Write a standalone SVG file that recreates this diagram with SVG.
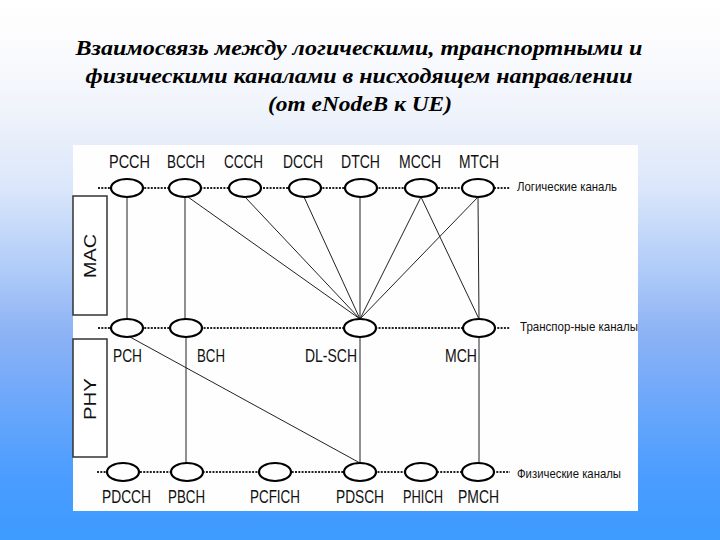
<svg xmlns="http://www.w3.org/2000/svg" width="720" height="540" viewBox="0 0 720 540">
<defs>
<linearGradient id="bg" x1="0" y1="0" x2="0" y2="1">
<stop offset="0" stop-color="#ffffff"/>
<stop offset="0.07" stop-color="#fcfcfe"/>
<stop offset="0.2" stop-color="#f0f4fb"/>
<stop offset="0.35" stop-color="#dae6fa"/>
<stop offset="0.5" stop-color="#afcbf8"/>
<stop offset="0.62" stop-color="#8cb2f5"/>
<stop offset="0.75" stop-color="#6ba7fb"/>
<stop offset="0.88" stop-color="#4b9dff"/>
<stop offset="1" stop-color="#3d9bff"/>
</linearGradient>
<style>
.title{font-family:"Liberation Serif","Times New Roman",serif;font-weight:bold;font-style:italic;font-size:22px;fill:#000;text-anchor:middle}
.lbl{font-family:"Liberation Sans",Arial,sans-serif;font-size:19px;fill:#111}
.side{font-family:"Liberation Sans",Arial,sans-serif;font-size:13px;fill:#111}
.box{font-family:"Liberation Sans",Arial,sans-serif;font-size:17px;fill:#111;text-anchor:middle}
.ell{fill:#fff;stroke:#000;stroke-width:2.2}
.dot{stroke:#222;stroke-width:2;stroke-dasharray:2 1.3;fill:none}
.ln{stroke:#222;stroke-width:1;fill:none}
.layer{fill:#fff;stroke:#333;stroke-width:1.5}
</style>
</defs>
<rect width="720" height="540" fill="url(#bg)"/>
<g id="title">
<text class="title" x="359" y="55" textLength="567" lengthAdjust="spacingAndGlyphs">Взаимосвязь между логическими, транспортными и</text>
<text class="title" x="359" y="83" textLength="547" lengthAdjust="spacingAndGlyphs">физическими каналами в нисходящем направлении</text>
<text class="title" x="360" y="111" textLength="184" lengthAdjust="spacingAndGlyphs">(от eNodeB к UE)</text>
</g>
<rect x="73" y="145" width="565" height="366" fill="#fefefe"/>
<g id="layers">
<g id="mac"><rect class="layer" x="73" y="196" width="34" height="119"/><text class="box" transform="translate(96,256) rotate(-90)" textLength="44" lengthAdjust="spacingAndGlyphs">MAC</text></g>
<g id="phy"><rect class="layer" x="73" y="339" width="34" height="118"/><text class="box" transform="translate(96,399) rotate(-90)" textLength="42" lengthAdjust="spacingAndGlyphs">PHY</text></g>
</g>
<g id="rows">
<line class="dot" x1="98" y1="188" x2="510" y2="188"/>
<line class="dot" x1="98" y1="328" x2="510" y2="328"/>
<line class="dot" x1="97" y1="472" x2="510" y2="472"/>
</g>
<g id="connectors">
<line class="ln" x1="127" y1="197" x2="127" y2="319"/>
<line class="ln" x1="185" y1="197" x2="185" y2="319"/>
<line class="ln" x1="188" y1="197" x2="360" y2="319"/>
<line class="ln" x1="245" y1="197" x2="360" y2="319"/>
<line class="ln" x1="304" y1="197" x2="360" y2="319"/>
<line class="ln" x1="360" y1="197" x2="360" y2="319"/>
<line class="ln" x1="421" y1="197" x2="360" y2="319"/>
<line class="ln" x1="421" y1="197" x2="479" y2="319"/>
<line class="ln" x1="478" y1="197" x2="360" y2="319"/>
<line class="ln" x1="478" y1="197" x2="479" y2="319"/>
<line class="ln" x1="130" y1="337" x2="360" y2="463"/>
<line class="ln" x1="186" y1="337" x2="186" y2="463"/>
<line class="ln" x1="360" y1="337" x2="360" y2="463"/>
<line class="ln" x1="479" y1="337" x2="479" y2="463"/>
</g>
<g id="PCCH"><ellipse class="ell" cx="127" cy="188" rx="16" ry="9"/><text class="lbl" x="109" y="168" textLength="41" lengthAdjust="spacingAndGlyphs">PCCH</text></g>
<g id="BCCH"><ellipse class="ell" cx="185" cy="188" rx="16" ry="9"/><text class="lbl" x="167" y="168" textLength="38" lengthAdjust="spacingAndGlyphs">BCCH</text></g>
<g id="CCCH"><ellipse class="ell" cx="245" cy="188" rx="16" ry="9"/><text class="lbl" x="224" y="168" textLength="39" lengthAdjust="spacingAndGlyphs">CCCH</text></g>
<g id="DCCH"><ellipse class="ell" cx="305" cy="188" rx="16" ry="9"/><text class="lbl" x="283" y="168" textLength="40" lengthAdjust="spacingAndGlyphs">DCCH</text></g>
<g id="DTCH"><ellipse class="ell" cx="361" cy="188" rx="16" ry="9"/><text class="lbl" x="341" y="168" textLength="39" lengthAdjust="spacingAndGlyphs">DTCH</text></g>
<g id="MCCH"><ellipse class="ell" cx="421" cy="188" rx="16" ry="9"/><text class="lbl" x="399" y="168" textLength="42" lengthAdjust="spacingAndGlyphs">MCCH</text></g>
<g id="MTCH"><ellipse class="ell" cx="478" cy="188" rx="16" ry="9"/><text class="lbl" x="459" y="168" textLength="40" lengthAdjust="spacingAndGlyphs">MTCH</text></g>
<g id="PCH"><ellipse class="ell" cx="127" cy="328" rx="16" ry="9"/><text class="lbl" x="113" y="362" textLength="29" lengthAdjust="spacingAndGlyphs">PCH</text></g>
<g id="BCH"><ellipse class="ell" cx="186" cy="328" rx="16" ry="9"/><text class="lbl" x="197" y="362" textLength="28" lengthAdjust="spacingAndGlyphs">BCH</text></g>
<g id="DL-SCH"><ellipse class="ell" cx="360" cy="328" rx="16" ry="9"/><text class="lbl" x="305" y="362" textLength="52" lengthAdjust="spacingAndGlyphs">DL-SCH</text></g>
<g id="MCH"><ellipse class="ell" cx="479" cy="328" rx="16" ry="9"/><text class="lbl" x="445" y="362" textLength="32" lengthAdjust="spacingAndGlyphs">MCH</text></g>
<g id="PDCCH"><ellipse class="ell" cx="123" cy="472" rx="16" ry="9"/><text class="lbl" x="102" y="503" textLength="49" lengthAdjust="spacingAndGlyphs">PDCCH</text></g>
<g id="PBCH"><ellipse class="ell" cx="187" cy="472" rx="16" ry="9"/><text class="lbl" x="168" y="503" textLength="37" lengthAdjust="spacingAndGlyphs">PBCH</text></g>
<g id="PCFICH"><ellipse class="ell" cx="275" cy="472" rx="16" ry="9"/><text class="lbl" x="250" y="503" textLength="50" lengthAdjust="spacingAndGlyphs">PCFICH</text></g>
<g id="PDSCH"><ellipse class="ell" cx="360" cy="472" rx="16" ry="9"/><text class="lbl" x="336" y="503" textLength="48" lengthAdjust="spacingAndGlyphs">PDSCH</text></g>
<g id="PHICH"><ellipse class="ell" cx="421" cy="472" rx="16" ry="9"/><text class="lbl" x="403" y="503" textLength="40" lengthAdjust="spacingAndGlyphs">PHICH</text></g>
<g id="PMCH"><ellipse class="ell" cx="478" cy="472" rx="16" ry="9"/><text class="lbl" x="458" y="503" textLength="41" lengthAdjust="spacingAndGlyphs">PMCH</text></g>
<g id="row-labels">
<text class="side" x="517" y="191" textLength="100" lengthAdjust="spacingAndGlyphs">Логические каналь</text>
<text class="side" x="520" y="331" textLength="118" lengthAdjust="spacingAndGlyphs">Транспор-ные каналы</text>
<text class="side" x="517" y="478" textLength="104" lengthAdjust="spacingAndGlyphs">Физические каналы</text>
</g>
</svg>
